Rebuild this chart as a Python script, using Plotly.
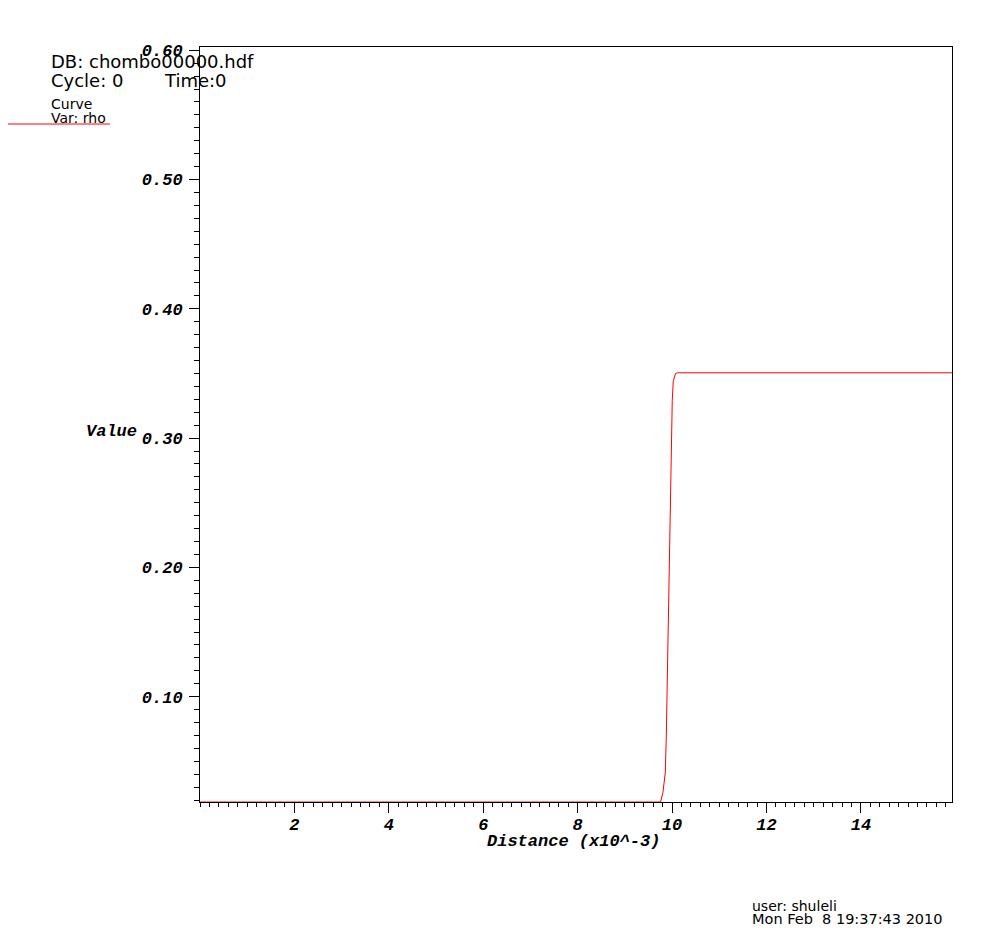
import plotly.graph_objects as go

# ---- data ----
distance = [0.0, 9.756, 9.805, 9.856, 9.877, 9.898, 9.920, 9.940, 9.962, 9.983,
            10.004, 10.025, 10.074, 10.120, 15.93]
rho = [0.0185, 0.0185, 0.0256, 0.041, 0.068, 0.115, 0.161, 0.208, 0.255, 0.302,
       0.329, 0.344, 0.3500, 0.3505, 0.3505]

x_ticks = [2, 4, 6, 8, 10, 12, 14]
y_ticks = [0.1, 0.2, 0.3, 0.4, 0.5, 0.6]

OFF = 8  # default page body margin
W, H = 1003 - OFF, 944 - OFF
L, R, T, B = 200 - OFF, 51, 47 - OFF, 142
PW, PH = W - L - R, H - T - B


def px(xp):
    return (xp - OFF - L) / PW


def py(yp):
    return (H - B - (yp - OFF)) / PH


mono = dict(family="Liberation Mono", size=17, color="black", weight="bold", style="italic")
sans = "DejaVu Sans"

fig = go.Figure()
fig.add_trace(go.Scatter(x=distance, y=rho, mode="lines",
                         line=dict(color="red", width=1), showlegend=False,
                         cliponaxis=True))

axis_common = dict(showline=True, linecolor="black", linewidth=1, mirror=True,
                   showgrid=False, zeroline=False, ticks="outside", ticklen=10,
                   tickcolor="black", tickwidth=1, tickfont=mono)

fig.update_xaxes(range=[0, 15.93], tickvals=x_ticks, ticktext=[str(v) for v in x_ticks],
                 ticklabelstandoff=-3,
                 minor=dict(tick0=0, dtick=0.2, ticks="outside", ticklen=4,
                            tickcolor="black", showgrid=False),
                 **axis_common)
fig.update_yaxes(range=[0.0185, 0.6025], tickvals=y_ticks,
                 ticktext=["%.2f" % v for v in y_ticks],
                 ticklabelstandoff=3,
                 minor=dict(tick0=0, dtick=0.01, ticks="outside", ticklen=5,
                            tickcolor="black", showgrid=False),
                 **axis_common)

annotations = [
    dict(text="Value", x=px(84), y=py(432), xanchor="left", yanchor="middle", font=mono),
    dict(text="Distance (x10^-3)", x=px(573), y=py(841), xanchor="center", yanchor="middle", font=mono),
    dict(text="DB: chombo00000.hdf", x=px(49), y=py(62), xanchor="left", yanchor="middle",
         font=dict(family=sans, size=18, color="black")),
    dict(text="Cycle: 0", x=px(49), y=py(80), xanchor="left", yanchor="middle",
         font=dict(family=sans, size=18, color="black")),
    dict(text="Time:0", x=px(162), y=py(80), xanchor="left", yanchor="middle",
         font=dict(family=sans, size=18, color="black")),
    dict(text="Curve", x=px(49), y=py(104), xanchor="left", yanchor="middle",
         font=dict(family=sans, size=14, color="black")),
    dict(text="Var: rho", x=px(49), y=py(118), xanchor="left", yanchor="middle",
         font=dict(family=sans, size=14, color="black")),
    dict(text="user: shuleli", x=px(750), y=py(906), xanchor="left", yanchor="middle",
         font=dict(family=sans, size=14, color="black")),
    dict(text="Mon Feb  8 19:37:43 2010", x=px(750), y=py(919), xanchor="left", yanchor="middle",
         font=dict(family=sans, size=14.5, color="black")),
]
for a in annotations:
    a.update(xref="paper", yref="paper", showarrow=False)

fig.update_layout(
    width=W, height=H,
    margin=dict(l=L, r=R, t=T, b=B, pad=0),
    paper_bgcolor="white", plot_bgcolor="white",
    annotations=annotations,
    shapes=[dict(type="line", xref="paper", yref="paper",
                 x0=px(4), x1=px(110), y0=py(124), y1=py(124),
                 line=dict(color="red", width=1))],
    showlegend=False,
)

fig.write_html("out.html")
